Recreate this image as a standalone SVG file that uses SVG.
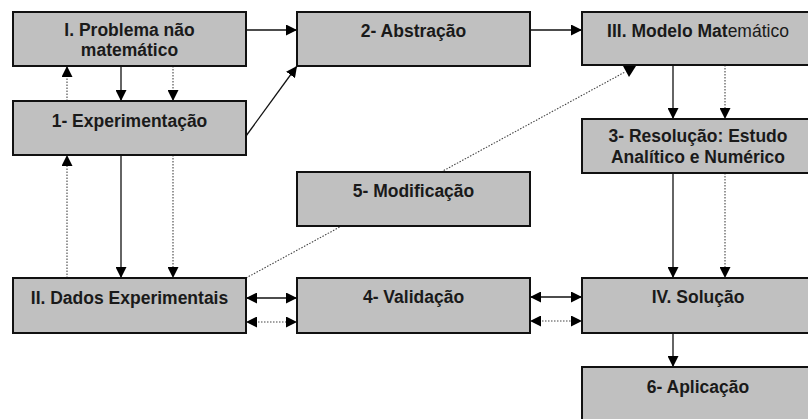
<svg xmlns="http://www.w3.org/2000/svg" width="808" height="419" viewBox="0 0 808 419">
<style>
.box{fill:#c0c0c0;stroke:#111;stroke-width:2}
.t{font-family:"Liberation Sans",Arial,sans-serif;font-weight:bold;font-size:17.5px;fill:#1a1a1a;text-anchor:middle}
.n{font-weight:normal}
.s{fill:none;stroke:#111;stroke-width:1.3}
.d{fill:none;stroke:#444;stroke-width:1.1;stroke-dasharray:1.5 1.5}
</style>
<defs>
<marker id="a" markerUnits="userSpaceOnUse" markerWidth="11" markerHeight="11" refX="11" refY="5.5" orient="auto-start-reverse">
<path d="M0,0 L11,5.5 L0,11 z" fill="#000"/>
</marker>
</defs>
<rect width="808" height="419" fill="#fff"/>
<g id="connectors">
<line class="d" x1="246" y1="278" x2="625" y2="72"/>
<polygon points="623,66 636,66 629,77" fill="#000"/>
<line class="s" x1="246" y1="30" x2="297" y2="30" marker-end="url(#a)"/>
<line class="s" x1="246" y1="136" x2="297" y2="66" marker-end="url(#a)"/>
<line class="s" x1="121" y1="66" x2="121" y2="101" marker-end="url(#a)"/>
<line class="d" x1="173" y1="66" x2="173" y2="101" marker-end="url(#a)"/>
<line class="d" x1="67" y1="101" x2="67" y2="66" marker-end="url(#a)"/>
<line class="s" x1="121" y1="155" x2="121" y2="278" marker-end="url(#a)"/>
<line class="d" x1="173" y1="155" x2="173" y2="278" marker-end="url(#a)"/>
<line class="d" x1="67" y1="278" x2="67" y2="155" marker-end="url(#a)"/>
<line class="s" x1="530" y1="30" x2="582" y2="30" marker-end="url(#a)"/>
<line class="s" x1="673" y1="65" x2="673" y2="119" marker-end="url(#a)"/>
<line class="d" x1="725" y1="65" x2="725" y2="119" marker-end="url(#a)"/>
<line class="s" x1="673" y1="173" x2="673" y2="278" marker-end="url(#a)"/>
<line class="d" x1="725" y1="173" x2="725" y2="278" marker-end="url(#a)"/>
<line class="s" x1="673" y1="333" x2="673" y2="367" marker-end="url(#a)"/>
<line class="s" x1="246" y1="298" x2="297" y2="298" marker-start="url(#a)" marker-end="url(#a)"/>
<line class="d" x1="246" y1="322" x2="297" y2="322" marker-start="url(#a)" marker-end="url(#a)"/>
<line class="s" x1="530" y1="297" x2="582" y2="297" marker-start="url(#a)" marker-end="url(#a)"/>
<line class="d" x1="530" y1="321" x2="582" y2="321" marker-start="url(#a)" marker-end="url(#a)"/>
</g>
<g id="n-problema">
<rect class="box" x="13" y="12" width="233" height="54"/>
<text class="t" x="129.5" y="36">I. Problema não</text>
<text class="t" x="129.5" y="56">matemático</text>
</g>
<g id="n-experimentacao">
<rect class="box" x="13" y="101" width="233" height="54"/>
<text class="t" x="129.5" y="127">1- Experimentação</text>
</g>
<g id="n-dados">
<rect class="box" x="13" y="278" width="233" height="55"/>
<text class="t" x="129.5" y="304">II. Dados Experimentais</text>
</g>
<g id="n-abstracao">
<rect class="box" x="297" y="12" width="233" height="54"/>
<text class="t" x="413.5" y="37">2- Abstração</text>
</g>
<g id="n-modificacao">
<rect class="box" x="297" y="172" width="233" height="54"/>
<text class="t" x="413.5" y="197">5- Modificação</text>
</g>
<g id="n-validacao">
<rect class="box" x="297" y="278" width="233" height="55"/>
<text class="t" x="413.5" y="303">4- Validação</text>
</g>
<g id="n-modelo">
<rect class="box" x="582" y="12" width="233" height="53"/>
<text class="t" x="698" y="37">III. Modelo Mat<tspan class="n">emático</tspan></text>
</g>
<g id="n-resolucao">
<rect class="box" x="582" y="119" width="233" height="54"/>
<text class="t" x="698" y="142">3- Resolução: Estudo</text>
<text class="t" x="698" y="163">Analítico e Numérico</text>
</g>
<g id="n-solucao">
<rect class="box" x="582" y="278" width="233" height="55"/>
<text class="t" x="698" y="303">IV. Solução</text>
</g>
<g id="n-aplicacao">
<rect class="box" x="582" y="367" width="233" height="60"/>
<text class="t" x="698" y="393">6- Aplicação</text>
</g>
</svg>
